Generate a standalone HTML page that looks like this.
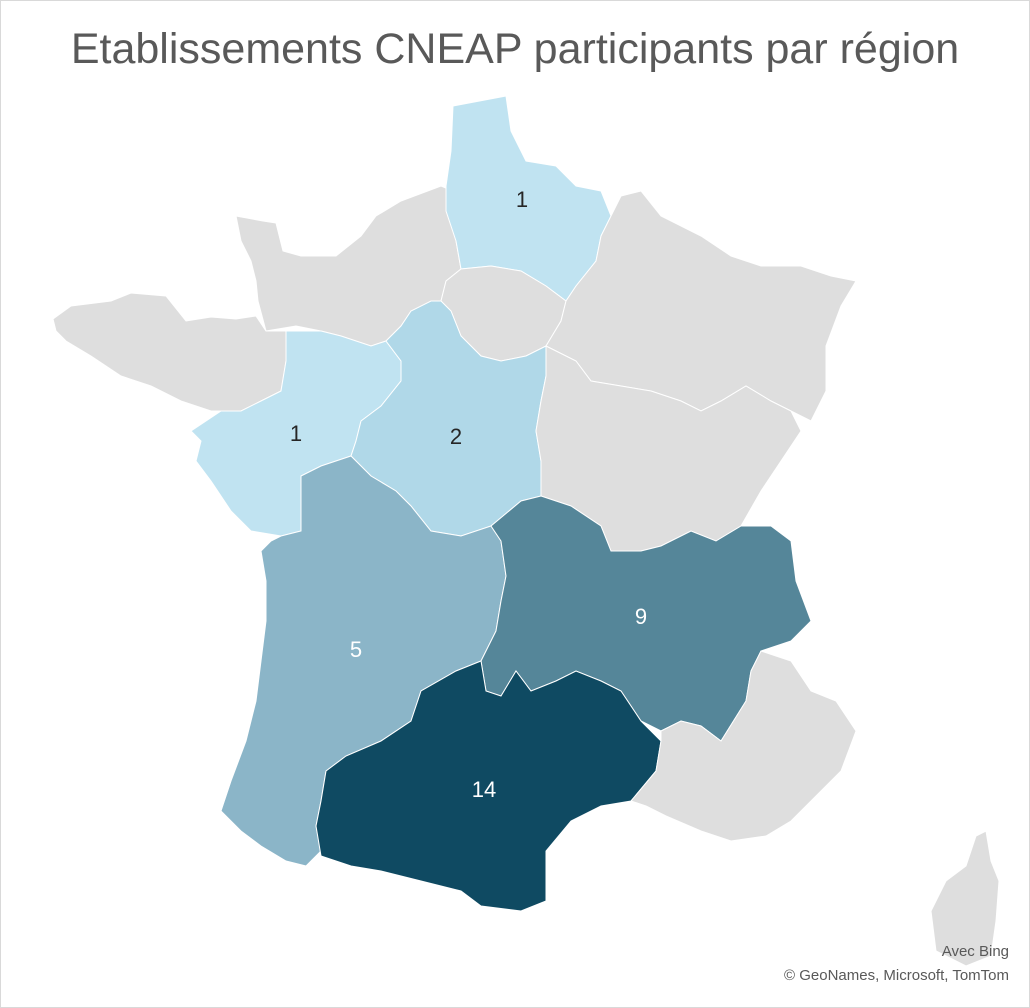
<!DOCTYPE html>
<html><head><style>
body{margin:0;background:#fff}
.w{position:relative;width:1028px;height:1006px;border:1px solid #d9d9d9;background:#fff;overflow:hidden}
.t{position:absolute;left:0;width:1028px;top:24px;text-align:center;font:43px "Liberation Sans",sans-serif;color:#595959}
.a{position:absolute;right:20px;font:15px "Liberation Sans",sans-serif;color:#595959;text-align:right}
svg{position:absolute;left:0;top:0}
text{font-family:"Liberation Sans",sans-serif;font-size:22px;text-anchor:middle}
</style></head><body><div class="w">
<svg width="1030" height="1008" stroke="#fff" stroke-width="1">
<polygon fill="#dedede" points="235,215 262,220 275,222 282,250 300,255 335,255 360,235 375,215 400,200 440,185 452,190 455,240 460,268 445,280 440,300 410,310 400,325 385,340 370,345 340,335 320,330 295,325 265,330 257,300 255,280 250,260 240,240"/>
<polygon fill="#dedede" points="52,318 70,305 110,300 130,292 165,295 185,320 210,316 235,318 255,315 265,330 285,330 285,360 280,390 260,400 240,410 210,410 180,400 150,385 120,375 90,355 65,340 55,330"/>
<polygon fill="#c0e3f1" points="452,105 505,95 510,130 525,160 555,165 575,185 600,190 610,215 600,235 595,260 575,285 565,300 545,285 520,270 490,265 460,268 455,240 445,210 445,185 450,150"/>
<polygon fill="#dedede" points="445,280 460,268 490,265 520,270 545,285 565,300 560,320 545,345 525,355 500,360 480,355 460,335 450,310 440,300"/>
<polygon fill="#dedede" points="575,285 595,260 600,235 610,215 620,195 640,190 660,215 700,235 730,255 760,265 800,265 830,275 855,280 840,305 825,345 825,390 810,420 790,410 770,400 745,385 720,400 700,410 680,400 650,390 620,385 590,380 575,360 545,345 560,320 565,300"/>
<polygon fill="#c0e3f1" points="285,330 320,330 340,335 370,345 385,340 400,360 400,380 380,405 360,420 355,440 350,455 320,465 300,475 300,510 300,530 280,535 250,530 230,510 210,480 195,460 200,440 190,430 220,410 240,410 260,400 280,390 285,360"/>
<polygon fill="#b0d8e8" points="385,340 400,325 410,310 430,300 440,300 450,310 460,335 480,355 500,360 525,355 545,345 545,375 540,400 535,430 540,460 540,495 520,500 490,525 460,535 430,530 410,505 395,490 370,475 350,455 355,440 360,420 380,405 400,380 400,360"/>
<polygon fill="#dedede" points="545,345 575,360 590,380 620,385 650,390 680,400 700,410 720,400 745,385 770,400 790,410 800,430 780,460 760,490 740,525 715,540 690,530 660,545 640,550 610,550 600,525 570,505 540,495 540,460 535,430 540,400 545,375"/>
<polygon fill="#8bb5c8" points="300,475 320,465 350,455 370,475 395,490 410,505 430,530 460,535 490,525 500,540 505,575 500,600 495,630 480,660 455,670 420,690 410,720 380,740 345,755 325,770 320,800 315,825 320,850 305,865 285,860 260,845 240,830 220,810 230,780 245,740 255,700 260,660 265,620 265,580 260,550 270,540 280,535 300,530 300,510"/>
<polygon fill="#558699" points="490,525 520,500 540,495 570,505 600,525 610,550 640,550 660,545 690,530 715,540 740,525 770,525 790,540 795,580 810,620 790,640 760,650 750,670 745,700 720,740 700,725 680,720 660,730 640,720 620,690 600,680 575,670 555,680 530,690 515,670 500,695 485,690 480,660 495,630 500,600 505,575 500,540"/>
<polygon fill="#0f4a62" points="410,720 420,690 455,670 480,660 485,690 500,695 515,670 530,690 555,680 575,670 600,680 620,690 640,720 660,740 655,770 630,800 600,805 570,820 545,850 545,900 520,910 480,905 460,890 420,880 380,870 350,865 320,855 315,825 320,800 325,770 345,755 380,740"/>
<polygon fill="#dedede" points="660,730 680,720 700,725 720,740 745,700 750,670 760,650 790,660 810,690 835,700 855,730 840,770 810,800 790,820 765,835 730,840 700,830 665,815 645,805 630,800 655,770 660,740"/>
<polygon fill="#dedede" points="975,835 985,830 990,860 998,880 995,920 990,955 965,965 935,950 930,910 945,880 965,865"/>
<g stroke="none">
<text x="521" y="206" fill="#262626">1</text>
<text x="295" y="440" fill="#262626">1</text>
<text x="455" y="443" fill="#262626">2</text>
<text x="355" y="656" fill="#fff">5</text>
<text x="640" y="623" fill="#fff">9</text>
<text x="483" y="796" fill="#fff">14</text>
</g>
</svg>
<div class="t">Etablissements CNEAP participants par région</div>
<div class="a" style="top:942px">Avec Bing</div>
<div class="a" style="top:966px">© GeoNames, Microsoft, TomTom</div>
</div></body></html>
